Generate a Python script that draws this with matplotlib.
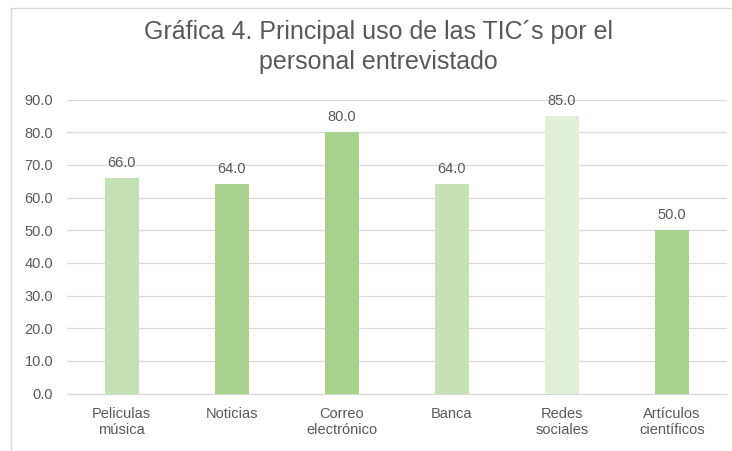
import matplotlib.pyplot as plt
from matplotlib.patches import Rectangle

categories = ["Peliculas\nmúsica", "Noticias", "Correo\nelectrónico", "Banca",
              "Redes\nsociales", "Artículos\ncientíficos"]
values = [66.0, 64.0, 80.0, 64.0, 85.0, 50.0]
bar_colors = ["#C5E0B4", "#A9D18E", "#A9D18E", "#C5E0B4", "#E2F0D9", "#A9D18E"]
yticks = [0, 10, 20, 30, 40, 50, 60, 70, 80, 90]
title_lines = ["Gráfica 4. Principal uso de las TIC´s por el", "personal entrevistado"]

plt.rcParams["font.family"] = ["Liberation Sans", "DejaVu Sans"]
text_color = "#595959"
grid_color = "#D9D9D9"
W, H = 732, 451

fig = plt.figure(figsize=(W / 100, H / 100), dpi=100)
ax = fig.add_axes([66.7 / W, 1 - 393.5 / H, 660 / W, 294 / H])

x = range(len(categories))
bars = ax.bar(x, values, width=0.31, color=bar_colors, zorder=3)
for b, v in zip(bars, values):
    ax.annotate(f"{v:.1f}", (b.get_x() + b.get_width() / 2, v),
                xytext=(0, 8), textcoords="offset points",
                ha="center", va="baseline", fontsize=10.5, color=text_color, zorder=4)

ax.set_xlim(-0.5, len(categories) - 0.5)
ax.set_ylim(0, 90)
ax.set_yticks(yticks)
ax.set_yticklabels([f"{t:.1f}" for t in yticks])
ax.set_xticks(list(x))
ax.set_xticklabels(categories, linespacing=1.2)
ax.tick_params(axis="both", length=0, colors=text_color, labelsize=10.5)
ax.tick_params(axis="y", pad=9.8)
ax.tick_params(axis="x", pad=9.5)
ax.grid(axis="y", color=grid_color, linewidth=0.9, zorder=0)
for s in ["top", "right", "left"]:
    ax.spines[s].set_visible(False)
ax.spines["bottom"].set_color(grid_color)
ax.spines["bottom"].set_linewidth(0.9)

fig.text(378 / W, 1 - 39.5 / H, title_lines[0], ha="center", va="baseline",
         fontsize=18, color=text_color)
fig.text(378 / W, 1 - 69 / H, title_lines[1], ha="center", va="baseline",
         fontsize=18, color=text_color)

# chart border (cut off at right and bottom)
fig.patches.append(Rectangle((10.5 / W, -0.05), 1.2, 1 - 8 / H + 0.05,
                             transform=fig.transFigure, fill=False,
                             edgecolor=grid_color, linewidth=1.0))

fig.savefig("out.png", dpi=100)
